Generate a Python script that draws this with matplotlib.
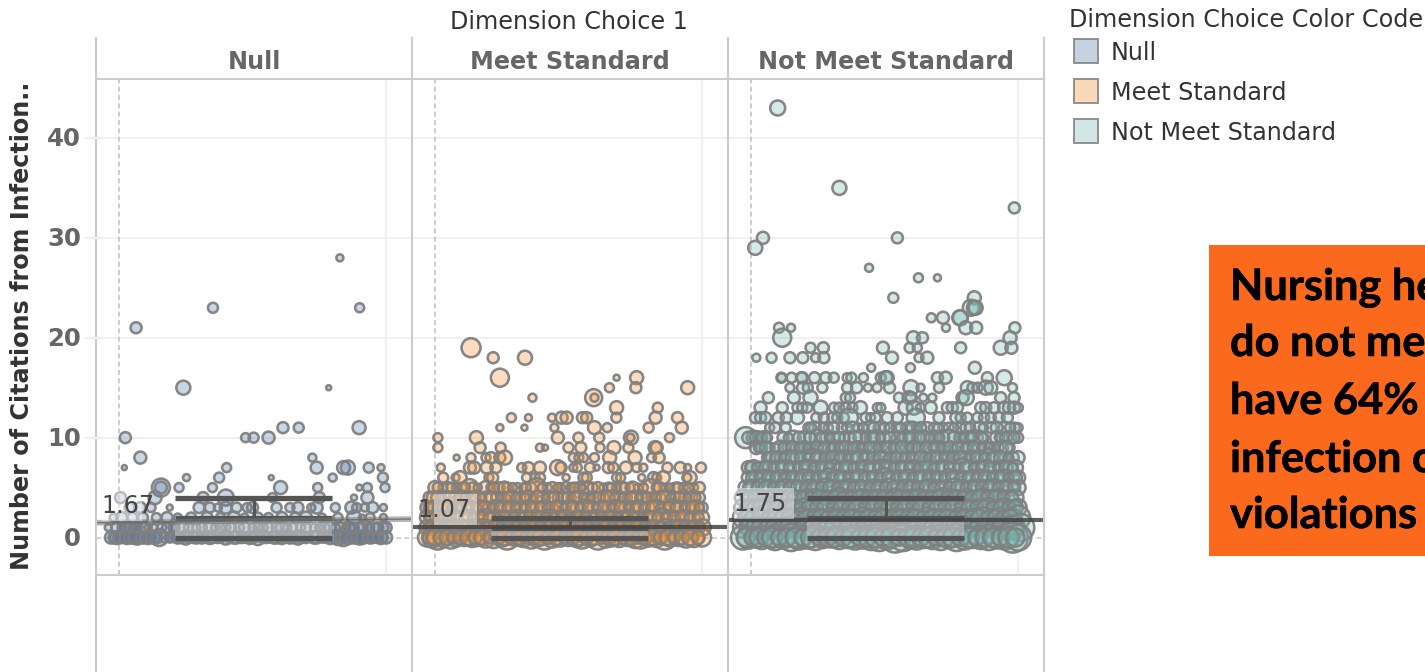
import matplotlib
matplotlib.use("Agg")
import matplotlib.pyplot as plt
import matplotlib.patheffects as pe
from matplotlib.lines import Line2D
from matplotlib.patches import Rectangle

panel_names = ["Null", "Meet Standard", "Not Meet Standard"]
legend_title = "Dimension Choice Color Code"
column_title = "Dimension Choice 1"
y_title = "Number of Citations from Infection.."
y_ticks = [0, 10, 20, 30, 40]
mean_labels = ["1.67", "1.07", "1.75"]
mean_left = [1.48, 1.07, 1.75]
mean_right = [1.85, 1.07, 1.75]
whisker_top = [4, 2, 4]
box_top = [2, 1, 2]
box_low = [0, 0, 0]
callout_lines = ["Nursing he", "do not me", "have 64%", "infection c", "violations"]

# each row: citation count, jittered x position, bubble diameter
null_up_y = [28,23,23,21,15,15,11,11,11,10,10,10,10,8,8,7,7,7,7,7,7,7,6,6,6,6,6,5,5,5,5,5,5,5,5,5,4,4,4,4,4,4,4,4]
null_up_x = [82.7,35.2,90.1,6.4,24.1,78.5,61.4,67.3,89.9,2.4,47.4,50.4,56,8,72.4,2,40.3,74,84.1,85.7,93.5,98.1,25.3,37.5,80,57,98.8,15.7,15.7,22.5,35,60.5,74.4,90,93,99.6,0.6,13.5,31.5,40,57.5,75,88,93]
null_up_d = [7,10,9,11,14,5,11,10,13,11,9,10,12,12,8,5,9,12,13,14,10,7,7,10,8,5,10,18,12,9,9,13,9,6,9,9,11,13,11,16,9,11,6,12]
null_x3 = [4,8,12,19,30,34,37,40,44,48,50,59,64,67,72,74,81,87,89,92,95,99]
null_d3 = [10,11,9,6,11,10,8,12,10,9,11,10,9,11,8,12,9,12,9,8,11,7]
null_x2 = [-2,1,5,9,14,18,22,27,33,38,43,47,52,56,61,66,70,76,82,88,91,94,99]
null_d2 = [8,11,10,10,9,11,8,10,11,9,12,8,10,9,11,10,12,8,9,14,6,9,7]
null_x1 = [-4,-1,2,4,6,9,13,18,21,24,29,34,38,42,47,52,56,61,65,70,75,79,83,86,88,91,94,97,100]
null_d1 = [7,10,11,12,10,11,7,10,9,11,8,12,9,10,11,9,10,12,9,10,8,11,10,12,9,11,8,10,11]
null_x0 = [-3,-1,1,3,5,7,9,11,13,15,19,22,25,28,31,34,37,40,43,46,49,52,55,58,61,64,67,70,73,76,79,82,84,86,88,90,92,94,96,98,100]
null_d0 = [12,13,11,13,12,14,12,13,12,17,10,12,14,11,12,13,11,14,12,11,13,15,11,12,13,12,14,11,12,10,13,15,17,13,12,14,11,12,10,13,12]
null_xb0 = [-2,0,2,4,6,8,10,12,14,17,20,23,26,29,32,35,38,41,44,47,50,53,56,59,62,65,68,71,74,77,80,83,85,87,89,91,93,95,97,99]
null_db0 = [10,12,9,11,13,9,11,10,12,10,9,11,10,12,9,11,10,9,12,10,11,9,10,12,9,11,10,9,12,10,11,9,12,10,11,13,9,11,10,9]
null_xb1 = [1,3,5,7,11,16,20,26,31,36,40,45,50,54,59,63,68,73,77,81,85,87,90,93,96,99]
null_db1 = [8,9,8,10,7,9,8,9,10,8,9,10,8,9,10,8,9,8,10,9,8,10,9,8,9,10]

meet_up_y = [19,18,18,16,16,16,15,15,15,14,14,14,13,13,12,12,12,12,12,12,12,12,12,12,11,11,11,11,11,11,11,10,10,10,10,10,10,10,10,9,9,9,9,9,9,9,9,9,9,9,9]
meet_up_x = [13.5,21.8,33.7,24.3,68,75.5,65.3,75.2,94.6,36.5,59.4,59.7,68,83.4,28.6,35,43.8,47.4,49.3,55.2,56.8,67.9,82.6,90.8,24.3,33.5,44.7,59.7,64.5,80,92.4,1.1,15.5,46,53.7,61.5,73.4,73.2,87.8,1.1,16.9,24.6,39.3,41.2,50,54.6,61.8,67,72.4,82.4,83]
meet_up_d = [19,11,14,18,6,13,9,11,13,8,17,8,13,10,9,7,8,12,12,11,11,10,12,11,7,6,8,13,9,10,12,9,13,12,10,10,14,8,9,9,11,10,8,6,10,11,9,13,10,13,12]
meet_x8 = [8.1,13.5,19.1,21,24.3,26.2,51.8,53.9,55.6,59.7,65.4,74.9,81.1,83.9]
meet_d8 = [6,9,9,11,11,14,9,9,9,9,13,13,9,11]
meet_x7 = [2.2,13.1,14.7,19.4,22.8,32.5,35,39.3,45.9,47.2,51.8,53.3,58,60.5,64.9,66.8,71.5,75.5,78,87,91.8,94.6,99.6]
meet_d7 = [8,12,12,12,11,9,11,12,15,11,8,9,10,6,11,10,12,9,8,10,11,7,10]
meet_x6 = [3.1,7.7,9.4,20.2,21.6,34.3,37.5,39.3,49.1,55.6,56.8,68,69.5,77.4,81.8,83,85.5,95.5,94.3]
meet_d6 = [10,8,13,9,11,9,9,10,7,10,10,9,9,7,11,9,13,13,9]
meet_x5 = [0,3,5,8,10,13,14,19,21,24,27,31,33,36,38,42,47,49,51,54,57,59,63,65,68,70,73,76,81,83,86,90,93,97,99]
meet_d5 = [13,9,11,9,10,17,10,13,9,11,10,9,8,10,19,9,9,11,9,11,12,10,8,10,9,11,9,8,17,10,7,10,9,8,11]
meet_xb5 = [1,6,11,16,22,26,29,34,40,44,46,52,55,61,66,71,74,78,84,88,91,95]
meet_db5 = [10,9,11,8,10,12,9,10,8,11,9,10,8,11,9,10,12,9,11,8,10,9]
meet_x4 = [-2,1,4,7,10,13,16,19,23,26,29,32,35,37,40,43,46,48,51,54,57,60,63,66,69,72,75,78,81,84,87,90,93,96,99]
meet_d4 = [12,13,11,10,14,11,13,12,10,11,13,10,14,8,11,13,10,12,9,13,10,12,11,14,10,9,13,11,10,12,14,10,9,12,11]
meet_xb4 = [-1,2.5,5.5,8.5,11.5,14.5,17.5,21,24.5,27.5,30.5,33.5,38.5,41.5,44.5,49.5,52.5,55.5,58.5,61.5,64.5,67.5,70.5,73.5,76.5,79.5,82.5,85.5,88.5,91.5,94.5,97.5]
meet_db4 = [11,9,12,8,10,13,9,11,8,12,10,9,13,8,11,10,12,9,8,11,13,10,9,12,8,11,10,13,9,11,8,10]
meet_xb3 = [-2,1,3.5,6.5,9.5,12.5,15.5,18.5,21.5,24.5,27.5,30.5,33.5,36.5,39.5,42.5,45.5,48.5,51.5,54.5,57.5,60.5,63.5,66.5,69.5,72.5,75.5,78.5,81.5,84.5,87.5,90.5,93.5,96.5,99]
meet_db3 = [12,10,13,9,11,12,10,13,9,11,12,10,9,12,11,10,13,9,12,10,11,9,13,10,12,9,11,10,13,9,12,11,10,13,9]
meet_x3 = [-3,0,2,5,8,11,14,17,20,23,26,29,32,35,38,41,44,47,50,53,56,59,62,65,68,71,74,77,80,83,86,89,92,95,98,100]
meet_d3 = [13,14,12,15,11,13,12,14,11,15,12,13,11,14,12,15,11,13,14,12,16,11,13,12,15,11,13,14,12,15,11,17,13,12,14,11]
meet_x2 = [-3,-1,2,4,7,10,13,16,19,22,25,28,31,34,37,40,43,46,49,52,55,58,61,64,67,70,73,76,79,82,85,88,91,94,97,100]
meet_d2 = [14,13,15,12,14,13,15,12,17,13,14,12,15,13,14,12,16,13,15,12,14,13,15,12,14,13,16,12,14,13,18,14,13,15,12,14]
meet_xb2 = [-2,0.5,3,5.5,8.5,11.5,14.5,17.5,20.5,23.5,26.5,29.5,32.5,35.5,38.5,41.5,44.5,47.5,50.5,53.5,56.5,59.5,62.5,65.5,68.5,71.5,74.5,77.5,80.5,83.5,86.5,89.5,92.5,95.5,98.5]
meet_db2 = [11,13,10,12,11,13,10,12,11,9,13,11,10,12,13,10,11,12,9,13,11,10,12,13,10,11,12,9,13,11,10,12,13,10,11]
meet_x1 = [-3,0,2,5,7,10,13,15,18,21,24,26,29,32,35,38,41,44,47,50,53,56,59,62,65,68,71,74,77,80,83,86,89,92,95,98,100]
meet_d1 = [15,16,14,15,17,14,16,15,17,14,16,15,14,17,15,16,14,17,15,16,14,15,17,14,16,15,17,14,16,15,14,17,15,16,14,15,17]
meet_xb1 = [-2,1,3.5,6,8.5,11.5,14,16.5,19.5,22.5,25,27.5,30.5,33.5,36.5,39.5,42.5,45.5,48.5,51.5,54.5,57.5,60.5,63.5,66.5,69.5,72.5,75.5,78.5,81.5,84.5,87.5,90.5,93.5,96.5,99]
meet_db1 = [12,13,11,13,12,14,11,13,12,14,11,13,12,11,14,12,13,11,14,12,13,11,12,14,11,13,12,14,11,13,12,11,14,12,13,11]
meet_x0 = [-3,-1,1,3,6,8,11,14,16,19,22,25,27,30,33,36,38,41,44,47,50,53,55,58,61,64,66,69,72,75,77,80,83,86,88,91,94,97,100]
meet_d0 = [18,20,24,19,22,18,17,19,17,20,21,18,24,17,19,22,18,24,20,18,17,19,22,18,24,20,18,19,17,21,22,18,19,24,18,17,20,19,18]
meet_xb0 = [-2,0,2,4.5,7,9.5,12.5,15,17.5,20.5,23.5,26,28.5,31.5,34.5,37,39.5,42.5,45.5,48.5,51.5,54,56.5,59.5,62.5,65,67.5,70.5,73.5,76,78.5,81.5,84.5,87,89.5,92.5,95.5,98.5]
meet_db0 = [14,16,13,15,12,14,16,13,15,12,14,16,13,15,12,14,16,13,15,12,14,16,13,15,12,14,16,13,15,12,14,16,13,15,12,14,16,13]

notm_up_y = [43,35,33,30,30,29,27,26,26,24,24,23,23,23,22,22,22,22,21,21,21,21,21,21,20,20,20,20]
notm_up_x = [10,33.1,98.6,4.5,54.8,1.6,44.2,62.7,69.8,53.3,83.6,82.3,83.5,84.1,67.5,71.9,78.2,78.4,10.5,15,73,80.4,84.3,98.8,11.7,60.8,64.2,97]
notm_up_d = [15,14,11,12,11,14,8,9,7,10,13,16,14,14,9,12,15,15,10,8,8,13,12,11,18,13,11,13]
notm_x19 = [22.3,27.1,49.4,59.4,62.3,78.5,93.5,97.5]
notm_d19 = [10,11,12,10,9,11,14,12]
notm_x18 = [2,7.7,14.6,19.4,24.2,27.3,52.8,62.9,66]
notm_d18 = [8,10,11,11,9,11,12,9,12]
notm_x17 = [45,59.7,83.8]
notm_d17 = [8,9,12]
notm_x16 = [11.4,11.5,15.2,18.9,19.2,23.8,28,31,36,37.6,42.1,48.6,50.4,51,69.8,72.9,88.5,94.8]
notm_d16 = [10,9,10,11,11,11,11,10,9,10,9,10,13,13,11,12,11,15]
notm_x15 = [14.6,19.5,21.3,26.7,36,39.6,43.8,47.2,51.9,59.9,63.5,70.4,81,82.9,84.8,87.9,89.8,97.9]
notm_d15 = [9,12,10,10,10,11,8,9,11,15,8,10,13,10,10,14,13,9]
notm_x14 = [6.5,16.1,22.3,35.5,37.1,55.4,59.2,60,64.5,67.9,79.2,80.6,93.5,98.5]
notm_d14 = [11,12,14,10,10,10,13,11,8,8,12,15,11,11]
notm_x13 = [3.6,11.7,17.4,19.2,21.1,26.1,31.1,33,35.5,38,41,47.3,48.6,57.9,61,63.5,67.3,73.5,75.4,77.3,86,87.9,91,94.8,96.6,98.5,100.1]
notm_d13 = [12,11,10,10,10,14,10,10,10,10,13,9,9,14,14,9,12,11,11,11,11,11,11,12,12,12,9]
notm_x12 = [1.7,3.6,5.5,10.2,13.2,17.4,24.5,27.3,30.5,32.3,34.8,36.7,42.9,44.8,46.7,51,54.8,61.7,70.4,76.7,78.5,81,84.8,87.3,89.8,92.9,96]
notm_d12 = [11,11,11,11,11,13,10,10,10,10,10,18,10,9,10,11,11,18,11,11,10,10,10,10,10,11,11]
notm_x11 = [7,9,13,21.5,24,29,34,40,44.5,48,54.5,59,62,66,68.5,72,78.5,85.5,90,95,98.8,100]
notm_d11 = [9,11,10,10,12,9,10,9,13,11,10,12,9,11,10,9,10,12,11,12,10,9]
notm_xb11 = [22.5,27,31,36,38,42,46,50,52,56,60.5,63.5,70,74,76,80.5,82,87,92,97]
notm_db11 = [10,9,11,10,12,9,11,10,9,10,12,11,9,10,9,11,10,9,12,10]
notm_x10 = [-2,1,3,5,12,16,20,25,28,31,35,37,41,45,47,50,55,58,61,65,69,72,74,78,81,84,86,92,94,97,100]
notm_d10 = [21,14,12,13,11,14,13,16,11,12,10,12,14,13,15,11,12,13,15,14,13,12,16,10,13,15,12,13,11,13,10]
notm_xb10 = [-1,2,4,6,14,18,22,26.5,29.5,33,39,43,46,48.5,52,56.5,59.5,63,67,70.5,76,79.5,82.5,87,93,95.5,98.5]
notm_db10 = [12,13,11,10,9,12,11,10,9,11,13,10,12,9,11,10,12,11,9,10,12,9,11,10,9,12,11]
notm_x9 = [2,4,7,11,14,17,20,23,26,29,32,34,37,40,43,46,49,52,55,58,61,64,67,70,73,76,79,82,85,88,91,94,97]
notm_d9 = [13,11,10,14,12,11,13,10,12,11,14,12,10,13,11,12,10,13,12,11,14,10,12,13,11,10,12,14,11,13,10,12,9]
notm_xb9 = [3,5.5,9,12.5,15.5,18.5,21.5,24.5,27.5,30.5,33,35.5,38.5,41.5,44.5,47.5,50.5,53.5,56.5,59.5,62.5,65.5,68.5,71.5,74.5,77.5,80.5,83.5,86.5,89.5,92.5,95.5]
notm_db9 = [10,12,9,11,13,10,9,12,11,10,9,13,11,10,12,9,11,10,13,9,11,12,10,9,13,11,10,12,9,10,11,13]
notm_x8 = [6,8,11,14,17,20,23,26,29,32,35,38,41,44,47,50,53,56,59,62,65,68,71,74,77,80,83,86,89,92,95,98,100]
notm_d8 = [10,13,11,15,12,14,17,13,10,12,14,11,16,13,10,12,9,11,13,12,10,14,11,13,10,12,14,11,18,13,11,12,13]
notm_xb8 = [7,9.5,12.5,15.5,18.5,21.5,24.5,27.5,30.5,33.5,36.5,39.5,42.5,45.5,48.5,51.5,54.5,57.5,60.5,63.5,66.5,69.5,72.5,75.5,78.5,81.5,84.5,87.5,90.5,93.5,96.5]
notm_db8 = [11,12,10,13,11,9,12,10,13,11,9,12,10,11,13,9,12,10,11,13,9,12,10,11,13,9,12,10,11,13,9]
notm_x7 = [-1,1,4,7,10,13,16,19,22,25,28,31,34,37,40,43,46,49,52,55,58,61,64,67,70,73,76,79,82,85,88,91,94,97,99]
notm_d7 = [13,15,12,14,13,15,12,13,16,14,12,15,13,14,12,15,13,16,12,14,13,15,11,14,13,15,12,18,14,13,15,12,14,13,15]
notm_xb7 = [0,2.5,5.5,8.5,11.5,14.5,17.5,20.5,23.5,26.5,29.5,32.5,35.5,38.5,41.5,44.5,47.5,50.5,53.5,56.5,59.5,62.5,65.5,68.5,71.5,74.5,77.5,80.5,83.5,86.5,89.5,92.5,95.5,98]
notm_db7 = [12,11,13,10,12,11,9,13,10,12,11,9,13,10,12,11,9,13,10,12,11,9,13,10,12,11,9,13,10,12,11,9,13,10]
notm_x6 = [-1,2,5,8,11,14,17,20,23,26,29,32,35,38,41,44,47,50,53,56,59,62,65,68,71,74,77,80,83,86,89,92,95,98,100]
notm_d6 = [13,14,16,13,15,14,12,16,14,13,18,15,13,14,16,13,15,19,13,14,16,13,15,14,12,17,14,13,15,16,13,14,16,13,14]
notm_xb6 = [0.5,3.5,6.5,9.5,12.5,15.5,18.5,21.5,24.5,27.5,30.5,33.5,36.5,39.5,42.5,45.5,48.5,51.5,54.5,57.5,60.5,63.5,66.5,69.5,72.5,75.5,78.5,81.5,84.5,87.5,90.5,93.5,96.5,99]
notm_db6 = [12,11,13,12,10,13,11,12,10,13,11,12,10,13,11,12,10,13,11,12,10,13,11,12,10,13,11,12,10,13,11,12,10,13]
notm_x5 = [-2,1,4,7,10,13,16,19,22,25,28,31,34,37,40,43,46,49,52,55,58,61,64,67,70,73,76,79,82,85,88,91,94,97,100]
notm_d5 = [14,16,18,15,14,17,15,13,16,14,18,15,14,17,15,13,16,15,18,14,16,15,13,17,15,14,18,15,14,16,15,17,14,16,15]
notm_xb5 = [-0.5,2.5,5.5,8.5,11.5,14.5,17.5,20.5,23.5,26.5,29.5,32.5,35.5,38.5,41.5,44.5,47.5,50.5,53.5,56.5,59.5,62.5,65.5,68.5,71.5,74.5,77.5,80.5,83.5,86.5,89.5,92.5,95.5,98.5]
notm_db5 = [13,12,14,11,13,12,14,11,13,12,14,11,13,12,14,11,13,12,14,11,13,12,14,11,13,12,14,11,13,12,14,11,13,12]
notm_x4 = [-3,0,3,6,9,12,15,18,21,24,27,30,33,36,39,42,45,48,51,54,57,60,63,66,69,72,75,78,81,84,87,90,93,96,99]
notm_d4 = [16,15,17,14,16,15,18,14,16,17,15,14,19,16,15,17,14,16,15,18,14,16,17,15,14,19,16,15,17,14,18,15,17,14,16]
notm_xb4 = [-1.5,1.5,4.5,7.5,10.5,13.5,16.5,19.5,22.5,25.5,28.5,31.5,34.5,37.5,40.5,43.5,46.5,49.5,52.5,55.5,58.5,61.5,64.5,67.5,70.5,73.5,76.5,79.5,82.5,85.5,88.5,91.5,94.5,97.5]
notm_db4 = [13,14,12,13,15,12,14,13,12,15,13,14,12,13,15,12,14,13,12,15,13,14,12,13,15,12,14,13,12,15,13,14,12,13]
notm_x3 = [-3,0,2,5,8,11,14,17,20,23,26,29,32,35,38,41,44,47,50,53,56,59,62,65,68,71,74,77,80,83,86,89,92,95,98,100]
notm_d3 = [17,16,18,16,19,15,17,16,18,16,17,20,15,18,16,17,15,19,16,18,15,17,16,18,20,15,17,16,18,15,17,19,16,18,15,17]
notm_xb3 = [-1.5,1,3.5,6.5,9.5,12.5,15.5,18.5,21.5,24.5,27.5,30.5,33.5,36.5,39.5,42.5,45.5,48.5,51.5,54.5,57.5,60.5,63.5,66.5,69.5,72.5,75.5,78.5,81.5,84.5,87.5,90.5,93.5,96.5,99]
notm_db3 = [14,13,15,12,14,13,15,12,14,13,15,12,14,13,15,12,14,13,15,12,14,13,15,12,14,13,15,12,14,13,15,12,14,13,15]
notm_x2 = [-3,-1,2,5,8,10,13,16,19,22,25,27,30,33,36,39,42,45,48,51,54,57,60,63,66,69,72,75,78,81,84,87,90,93,96,98,100]
notm_d2 = [20,17,19,16,18,17,19,16,20,17,18,16,19,17,18,16,20,17,19,16,18,17,19,16,20,17,18,16,19,17,18,20,17,19,16,18,24]
notm_xb2 = [-2,0.5,3.5,6.5,9,11.5,14.5,17.5,20.5,23.5,26,28.5,31.5,34.5,37.5,40.5,43.5,46.5,49.5,52.5,55.5,58.5,61.5,64.5,67.5,70.5,73.5,76.5,79.5,82.5,85.5,88.5,91.5,94.5,97]
notm_db2 = [15,14,16,13,15,14,16,13,15,14,16,13,15,14,16,13,15,14,16,13,15,14,16,13,15,14,16,13,15,14,16,13,15,14,16]
notm_x1 = [-3,0,2,5,7,10,13,15,18,21,24,27,29,32,35,38,41,44,46,49,52,55,58,60,63,66,69,72,75,77,80,83,86,89,92,95,98,101]
notm_d1 = [20,19,21,18,20,19,22,18,20,19,21,18,20,19,22,18,20,19,21,18,20,19,22,18,20,19,21,18,20,19,22,18,20,19,21,20,24,27]
notm_xb1 = [-1.5,1,3.5,6,8.5,11.5,14,16.5,19.5,22.5,25.5,28,30.5,33.5,36.5,39.5,42.5,45,47.5,50.5,53.5,56.5,59,61.5,64.5,67.5,70.5,73.5,76,78.5,81.5,84.5,87.5,90.5,93.5,96.5,99]
notm_db1 = [16,15,17,14,16,15,17,14,16,15,17,14,16,15,17,14,16,15,17,14,16,15,17,14,16,15,17,14,16,15,17,14,16,15,17,14,16]
notm_x0 = [-3,-1,2,4,7,9,12,15,18,21,24,27,30,33,36,39,42,45,48,51,54,57,60,62,65,68,71,74,77,80,83,86,89,92,95,98,100]
notm_d0 = [24,22,20,23,21,25,22,27,24,22,25,21,20,23,21,24,22,25,27,24,30,27,22,24,21,23,25,21,27,24,21,23,25,22,24,30,26]
notm_xb0 = [-2,0.5,3,5.5,8,10.5,13.5,16.5,19.5,22.5,25.5,28.5,31.5,34.5,37.5,40.5,43.5,46.5,49.5,52.5,55.5,58.5,61,63.5,66.5,69.5,72.5,75.5,78.5,81.5,84.5,87.5,90.5,93.5,96.5,99]
notm_db0 = [18,16,19,17,20,16,18,19,17,20,16,18,19,17,20,16,18,19,17,20,16,18,19,17,20,16,18,19,17,20,16,18,19,17,20,18]

null_levels = [(null_up_y, null_up_x, null_up_d), (3, null_x3, null_d3), (2, null_x2, null_d2), (1, null_x1, null_d1), (0, null_x0, null_d0), (1, null_xb1, null_db1), (0, null_xb0, null_db0)]
meet_levels = [(meet_up_y, meet_up_x, meet_up_d), (8, meet_x8, meet_d8), (7, meet_x7, meet_d7), (6, meet_x6, meet_d6), (5, meet_x5, meet_d5),
               (5, meet_xb5, meet_db5), (4, meet_x4, meet_d4), (4, meet_xb4, meet_db4), (3, meet_x3, meet_d3), (3, meet_xb3, meet_db3),
               (2, meet_x2, meet_d2), (2, meet_xb2, meet_db2), (1, meet_x1, meet_d1), (1, meet_xb1, meet_db1), (0, meet_x0, meet_d0), (0, meet_xb0, meet_db0)]
notm_levels = [(notm_up_y, notm_up_x, notm_up_d), (19, notm_x19, notm_d19), (18, notm_x18, notm_d18), (17, notm_x17, notm_d17), (16, notm_x16, notm_d16),
               (15, notm_x15, notm_d15), (14, notm_x14, notm_d14), (13, notm_x13, notm_d13), (12, notm_x12, notm_d12), (11, notm_x11, notm_d11), (11, notm_xb11, notm_db11),
               (10, notm_x10, notm_d10), (10, notm_xb10, notm_db10), (9, notm_x9, notm_d9), (9, notm_xb9, notm_db9), (8, notm_x8, notm_d8), (8, notm_xb8, notm_db8),
               (7, notm_x7, notm_d7), (7, notm_xb7, notm_db7), (6, notm_x6, notm_d6), (6, notm_xb6, notm_db6), (5, notm_x5, notm_d5), (5, notm_xb5, notm_db5),
               (4, notm_x4, notm_d4), (4, notm_xb4, notm_db4), (3, notm_x3, notm_d3), (3, notm_xb3, notm_db3), (2, notm_x2, notm_d2), (2, notm_xb2, notm_db2),
               (1, notm_x1, notm_d1), (1, notm_xb1, notm_db1), (0, notm_x0, notm_d0), (0, notm_xb0, notm_db0)]
panel_levels = [null_levels, meet_levels, notm_levels]
base_rgb = [(0x4E/255, 0x79/255, 0xA7/255), (0xF2/255, 0x8E/255, 0x2B/255), (0x76/255, 0xB7/255, 0xB2/255)]

W, H = 1425, 672
fig = plt.figure(figsize=(W/100, H/100), dpi=100)
plt.rcParams["font.family"] = "DejaVu Sans"

def fx(p): return p / W
def fy(p): return 1 - p / H

panel_left = [96, 412, 728]
panel_w = 316
top, bottom = 79, 575
frame = "#cccccc"
dark = "#555555"
grey_txt = "#666666"
fs = 17.2

for i, left in enumerate(panel_left):
    ax = fig.add_axes([fx(left), fy(bottom), panel_w / W, (bottom - top) / H])
    ax.set_xlim(-8.6, 109.7)
    ax.set_ylim(-3.75, 45.9)
    for s in ax.spines.values():
        s.set_visible(False)
    ax.patch.set_alpha(0)
    ax.set_xticks([])
    ax.set_yticks(y_ticks[1:])
    ax.tick_params(axis="y", length=0, labelleft=False)
    for v in y_ticks[1:]:
        ax.axhline(v, color="#f0f0f0", lw=1.5, zorder=0)
    ax.axvline(100, color="#f0f0f0", lw=1.5, zorder=0)
    ax.axvline(0, color="#c4c4c4", lw=1.2, ls=(0, (3, 2)), zorder=1)
    ax.axhline(0, color="#cccccc", lw=1.2, ls=(0, (3, 2)), zorder=1)

    xs, ys, ds = [], [], []
    for yv, xv, dv in panel_levels[i]:
        ylist = yv if isinstance(yv, list) else [yv] * len(xv)
        n = min(len(ylist), len(xv), len(dv))
        xs += list(xv[:n]); ys += list(ylist[:n]); ds += list(dv[:n])
    sizes = [(d * 0.72) ** 2 for d in ds]
    ax.scatter(xs, ys, s=sizes, facecolors=[base_rgb[i] + (0.3,)], edgecolors=[(0.5, 0.5, 0.5, 0.95)],
               linewidths=1.85, zorder=2, clip_on=True)

    # box summary
    ax.add_patch(Rectangle((21, box_low[i]), 58.8, box_top[i] - box_low[i], facecolor=(0.85, 0.85, 0.85, 0.42),
                           edgecolor="none", zorder=3))
    ax.plot([50.4, 50.4], [box_top[i], whisker_top[i]], color=dark, lw=2.2, zorder=4, solid_capstyle="butt")
    for v in (whisker_top[i], box_top[i], box_low[i]):
        ax.plot([21, 79.8], [v, v], color=dark, lw=3.8, zorder=5, solid_capstyle="butt")

    # mean line
    if i == 0:
        ax.plot([-8.6, 109.7], [mean_left[i], mean_right[i]], color="#777777", lw=4, alpha=0.55, zorder=6)
        ax.plot([-8.6, 109.7], [mean_left[i], mean_right[i]], color="#666666", lw=1, alpha=0.8, zorder=6)
    else:
        ax.plot([-8.6, 109.7], [mean_left[i], mean_right[i]], color="#444444", lw=3, alpha=0.85, zorder=6)

    # mean label
    box_x = [-6.5, -0.2, -6.3][i]
    box_w = [15, 16, 22.5][i]
    lab_y = mean_left[i] + 0.15
    ax.add_patch(Rectangle((box_x, lab_y), box_w, 3.1, facecolor=(1, 1, 1, 0.45), edgecolor="none", zorder=7))
    ax.text(-6.5, lab_y + 1.5, mean_labels[i], fontsize=fs, color="#444444", va="center", ha="left", zorder=8)

    # strip header
    fig.text(fx(left + panel_w / 2), fy(62), panel_names[i], fontsize=fs, fontweight="bold",
             color=grey_txt, ha="center", va="center")

# frame lines
for px in panel_left + [1044]:
    fig.add_artist(Line2D([fx(px), fx(px)], [fy(38), 0], color=frame, lw=1.5))
for py in (top, bottom):
    fig.add_artist(Line2D([fx(96), fx(1044)], [fy(py), fy(py)], color=frame, lw=1.5))

# y axis
for v in y_ticks:
    py = 537.5 - v * 9.99
    fig.text(fx(81), fy(py + 1.5), str(v), fontsize=17.6, fontweight="bold", color=grey_txt, ha="right", va="center")
    if v > 0:
        fig.add_artist(Line2D([fx(85), fx(96)], [fy(py), fy(py)], color="#f0f0f0", lw=1.5))
fig.text(fx(22), fy(326), y_title, fontsize=fs, fontweight="bold", color="#333333", rotation=90, ha="center", va="center")
fig.text(fx(569), fy(22), column_title, fontsize=fs, color="#333333", ha="center", va="center")

# legend
fig.text(fx(1069), fy(20), legend_title, fontsize=fs, color="#333333", ha="left", va="center")
for i, (name, py) in enumerate(zip(panel_names, (51, 91, 131))):
    fig.add_artist(Rectangle((fx(1074), fy(py + 12)), 24 / W, 24 / H, transform=fig.transFigure,
                             facecolor=base_rgb[i] + (0.33,), edgecolor=(0.5, 0.5, 0.5, 0.85), lw=1.4))
    fig.text(fx(1111), fy(py + 2), name, fontsize=fs, color="#333333", ha="left", va="center")

# call-out
fig.add_artist(Rectangle((fx(1209), fy(556)), 220 / W, 311 / H, transform=fig.transFigure,
                         facecolor="#FB6A1C", edgecolor="none"))
for line, base in zip(callout_lines, (300, 356, 414, 472, 528)):
    fig.text(fx(1230), fy(base), line, fontsize=31.2, fontweight="bold", family="Lato", color="black",
             ha="left", va="baseline", path_effects=[pe.withStroke(linewidth=0.4, foreground="black")])

fig.savefig("out.png", dpi=100)
